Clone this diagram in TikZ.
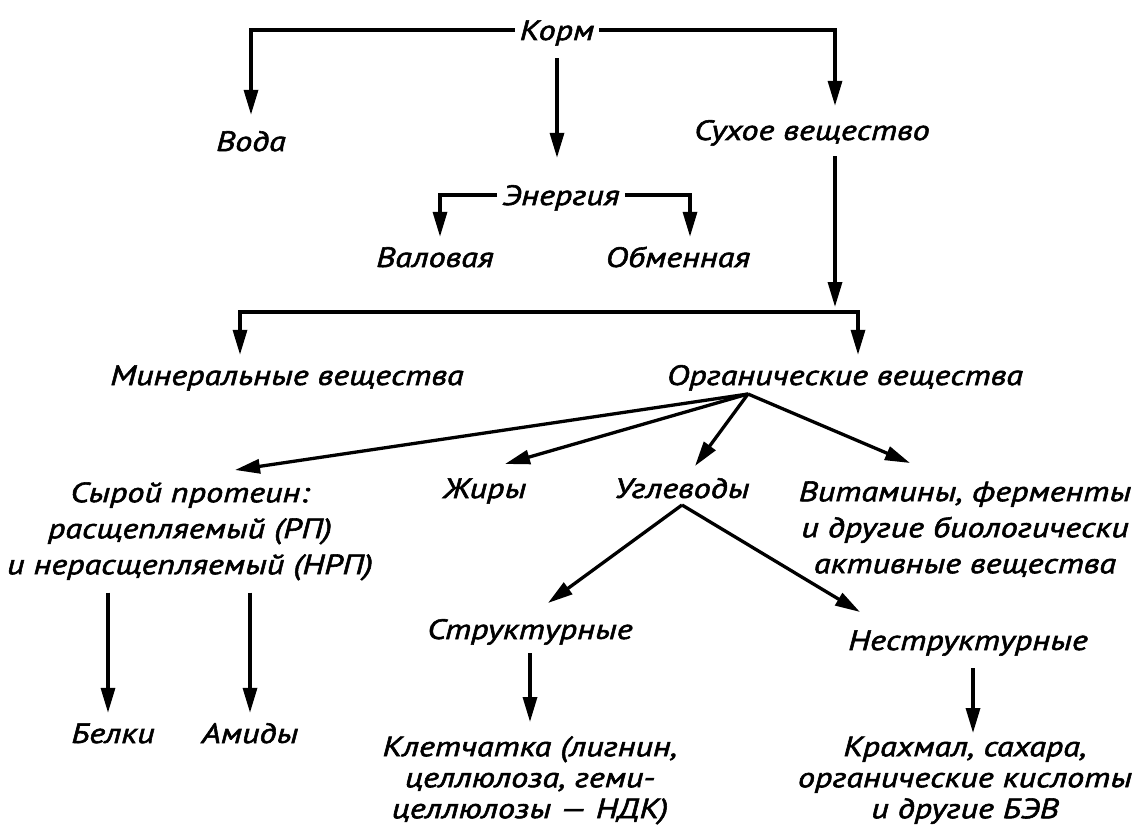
\documentclass[tikz,border=0pt]{standalone}
\usepackage{fontspec}
\newfontfamily\df{PT Sans}[FakeStretch=1.22,FakeBold=2]
\usetikzlibrary{arrows.meta}
\begin{document}
\begin{tikzpicture}[x=1pt,y=-1pt,
  lbl/.style={inner xsep=5pt,inner ysep=0pt,font=\df\itshape\fontsize{28}{36}\selectfont,text height=20pt,text depth=0pt},
  mlbl/.style={inner sep=0pt,font=\df\itshape\fontsize{28}{36}\selectfont,align=center,anchor=north},
  blbl/.style={mlbl,font=\df\itshape\fontsize{28}{31}\selectfont},
  conn/.style={line width=3.3pt},
  arr/.style={conn,-{Triangle[length=25pt,width=14pt]}}]
\useasboundingbox[fill=white] (0,0) rectangle (1145,829);

% nodes
\node[lbl] (korm) at (557,30) {Корм};
\node[lbl] (voda) at (251,141) {Вода};
\node[lbl] (dry) at (812,130) {Сухое вещество};
\node[lbl] (energy) at (561,195) {Энергия};
\node[lbl] (val) at (435,257) {Валовая};
\node[lbl] (obm) at (678,257) {Обменная};
\node[lbl] (minr) at (287,375) {Минеральные вещества};
\node[lbl] (org) at (845,375) {Органические вещества};
\node[mlbl] (protein) at (190,482) {\rule{0pt}{20pt}Сырой протеин:\\расщепляемый (РП)\\и нерасщепляемый (НРП)};
\node[lbl] (fats) at (485,488) {Жиры};
\node[lbl] (carbs) at (682,488) {Углеводы};
\node[mlbl] (vit) at (965,481) {\rule{0pt}{20pt}Витамины, ферменты\\и другие биологически\\активные вещества};
\node[lbl] (struct) at (530,629) {Структурные};
\node[lbl] (nonstruct) at (968,640) {Неструктурные};
\node[lbl] (belki) at (113,733) {Белки};
\node[lbl] (amidy) at (250,733) {Амиды};
\node[blbl] (klet) at (530,736) {\rule{0pt}{20pt}Клетчатка (лигнин,\\целлюлоза, геми-\\целлюлозы — НДК)};
\node[blbl] (krah) at (965,736) {\rule{0pt}{20pt}Крахмал, сахара,\\органические кислоты\\и другие БЭВ};

% helper coordinates
\coordinate (barL) at (240,312);
\coordinate (barR) at (858,312);
\coordinate (apex) at (748,394);
\coordinate (tP) at (235,470);
\coordinate (tF) at (505,464);
\coordinate (tC) at (695,466);
\coordinate (tV) at (910,463);
\coordinate (cS) at (682,505);
\coordinate (tS) at (548,603);
\coordinate (tN) at (860,612);

% connectors
\draw[arr,shorten >=16pt] (korm.west) -| (voda.north);
\draw[arr,shorten <=18pt,shorten >=27pt] (korm.south) -- (korm.south |- energy.north);
\draw[arr,shorten >=14pt] (korm.east) -| ([xshift=23pt]dry.north);

\draw[arr,shorten >=10pt] (energy.west) -| ([xshift=5pt]val.north);
\draw[arr,shorten >=10pt] (energy.east) -| ([xshift=12pt]obm.north);

\draw[arr,shorten <=16pt,shorten >=5pt] ([xshift=23pt]dry.south) -- ([xshift=23pt]dry.south |- barR);
\draw[arr,shorten >=10pt] (barR) -- (barL) -- (barL |- minr.north);
\draw[arr,shorten >=10pt] (barL) -- (barR) -- (barR |- org.north);

\draw[arr] (apex) -- (tP);
\draw[arr] (apex) -- (tF);
\draw[arr] (apex) -- (tC);
\draw[arr] (apex) -- (tV);

\draw[arr] (cS) -- (tS);
\draw[arr] (cS) -- (tN);

\draw[arr,shorten <=12pt,shorten >=10pt] ([xshift=-82pt]protein.south) -- ([xshift=-82pt]protein.south |- belki.north);
\draw[arr,shorten <=12pt,shorten >=10pt] ([xshift=60pt]protein.south) -- ([xshift=60pt]protein.south |- amidy.north);

\draw[arr,shorten <=14pt,shorten >=14pt] (struct.south) -- (struct.south |- klet.north);
\draw[arr,shorten <=18pt,shorten >=3pt] ([xshift=5pt]nonstruct.south) -- ([xshift=5pt]nonstruct.south |- krah.north);
\end{tikzpicture}
\end{document}
